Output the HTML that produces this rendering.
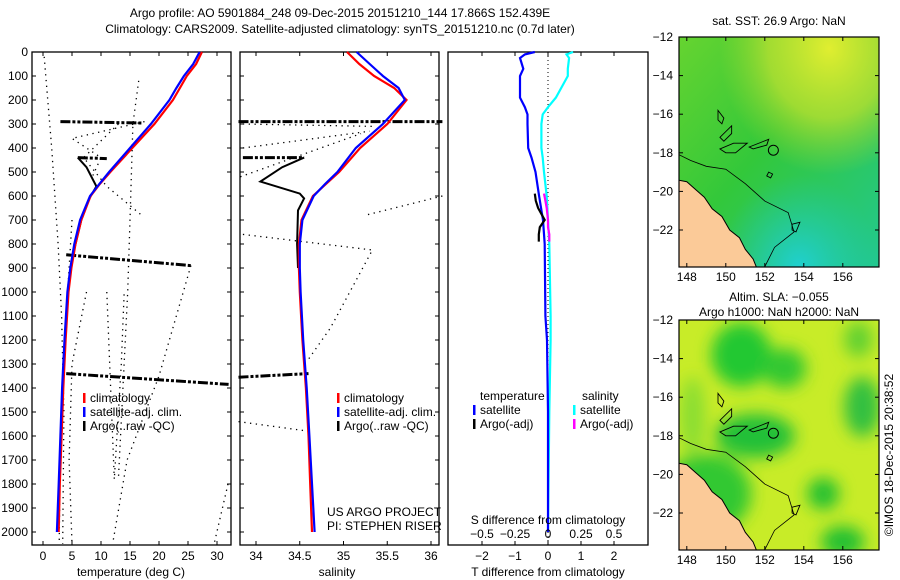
<!DOCTYPE html>
<html><head><meta charset="utf-8">
<style>
html,body{margin:0;padding:0;background:#fff;}
svg{display:block;font-family:"Liberation Sans",sans-serif;}
text{font-size:12px;fill:#000;}
</style></head>
<body>
<svg id="fig" width="900" height="580" viewBox="0 0 900 580" xmlns="http://www.w3.org/2000/svg">
<defs>
 <linearGradient id="sstg" x1="0" y1="0" x2="1" y2="1">
  <stop offset="0" stop-color="#66d430"/>
  <stop offset="0.45" stop-color="#33c83a"/>
  <stop offset="1" stop-color="#22c890"/>
 </linearGradient>
 <radialGradient id="sstYellow" cx="0.75" cy="0.05" r="0.55">
  <stop offset="0" stop-color="#e0ee30" stop-opacity="1"/>
  <stop offset="0.55" stop-color="#b8e030" stop-opacity="0.8"/>
  <stop offset="1" stop-color="#9ad830" stop-opacity="0"/>
 </radialGradient>
 <radialGradient id="sstTeal" cx="0.6" cy="1" r="0.4">
  <stop offset="0" stop-color="#20d0d0" stop-opacity="1"/>
  <stop offset="1" stop-color="#20c8b0" stop-opacity="0"/>
 </radialGradient>
 <filter id="blur"><feGaussianBlur stdDeviation="8"/></filter>
 <clipPath id="clip1"><rect x="679" y="37" width="200" height="230"/></clipPath>
 <clipPath id="clip2"><rect x="679" y="320" width="200" height="230"/></clipPath>
</defs>
<g id="root"></g>
</svg>
<script>
// ---------- data ----------
const depths = [0,50,100,150,200,300,400,500,550,600,700,800,900,1000,1200,1400,1600,1800,2000];
const tempClim = [27.4,26.4,24.8,23.6,22.4,19.2,15.4,11.6,9.8,8.2,6.6,5.6,4.9,4.4,3.9,3.5,3.2,2.9,2.7];
const tempSat  = [27.0,25.9,24.3,23.0,21.8,18.6,15.0,11.4,9.7,8.1,6.4,5.4,4.7,4.2,3.7,3.3,3.0,2.7,2.4];
const salClim  = [35.04,35.18,35.35,35.58,35.72,35.50,35.19,34.95,34.80,34.65,34.52,34.49,34.49,34.50,34.53,34.57,34.60,34.62,34.64];
const salSat   = [35.15,35.30,35.45,35.63,35.70,35.45,35.14,34.93,34.79,34.66,34.53,34.50,34.50,34.51,34.54,34.58,34.61,34.64,34.67];
const diffDepths = [0,10,25,70,100,190,230,260,300,400,440,500,600,700,800,1100,1200,1500,2000];
const tDiffSat = [-0.4,-0.7,-0.85,-0.75,-0.85,-0.85,-0.7,-0.62,-0.62,-0.6,-0.5,-0.38,-0.27,-0.15,-0.1,-0.08,-0.03,0,0];
const sDiffSat = [0.19,0.14,0.16,0.15,0.15,0.06,0,-0.04,-0.05,-0.05,-0.04,-0.03,-0.01,0,0.01,0.02,0.02,0.01,0];
const argoDiffDepths = [590,620,650,700,730,760,790];
const tDiffArgo = [-0.4,-0.37,-0.3,-0.1,-0.25,-0.28,-0.28];
const sDiffArgo = [-0.03,-0.02,-0.01,0,0,0.01,0.01];
// Argo raw (-QC) traces: [value, depth]
const tArgoDash = [
 [[3,290],[17,296]], [[6,440],[11,444]], [[4,845],[25.5,890]], [[4,1340],[32,1385]]
];
const tArgoSolid = [[6,440],[7.5,480],[9.2,560],[8,610],[6.6,700],[5.6,800],[5,860]];
const tArgoDots = [
 [[0.2,20],[1.5,400],[2.6,800],[3.2,1100],[3.6,1500],[3.4,2050]],
 [[16.5,120],[15.5,300],[15,700],[14.6,1000],[13,1780]],
 [[17.5,290],[5,360],[10,440],[8.5,520]],
 [[13,300],[7,440],[11,560],[15,640],[17,680]],
 [[25.5,890],[20,1350],[14.5,1700],[12,2050]],
 [[11,1000],[12.3,1780],[13.5,1300],[14,1000]],
 [[7.5,1000],[5,1300],[4.5,1700],[5,2050]],
 [[5,700],[4,1100],[3,1600],[2.8,2050]],
 [[31.9,1800],[29.5,2050]]
];
const sArgoDash = [
 [[33.8,290],[36.13,290]], [[33.85,440],[34.55,440]], [[33.8,1355],[34.6,1340]]
];
const sArgoSolid = [[34.55,440],[34.3,480],[34.05,540],[34.5,590],[34.55,610],[34.48,660],[34.47,800],[34.48,900]];
const sArgoDots = [
 [[33.85,300],[35.35,310]], [[33.85,400],[35.3,330]], [[33.82,520],[35.2,340]],
 [[33.85,760],[35.33,825],[34.85,1150],[34.6,1280]],
 [[36.13,600],[35.25,680]], [[33.8,1540],[34.6,1580]]
];
const depthTicks = [0,100,200,300,400,500,600,700,800,900,1000,1100,1200,1300,1400,1500,1600,1700,1800,1900,2000];
const tempTicks = [0,5,10,15,20,25,30];
const salTicks = [34,34.5,35,35.5,36];
const tDiffTicks = [-2,-1,0,1,2];
const sDiffTicks = [-0.5,-0.25,0,0.25,0.5];
const latTicks = [-12,-14,-16,-18,-20,-22];
const lonTicks = [148,150,152,154,156];
const coastLand = [[147.5,-19.4],[148,-19.5],[148.5,-19.95],[148.9,-20.3],[149.3,-20.9],[149.8,-21.3],[150.2,-22],[150.7,-22.4],[151,-23],[151.4,-23.5],[151.6,-24],[147.5,-24]];
const shelfLine = [[147.6,-18.1],[148.2,-18.4],[149,-18.7],[150,-18.85],[151,-19.6],[152,-20.5],[153.2,-21.1],[153.5,-22.1],[152.5,-22.9],[152.0,-23.9]];
const reefs = [
 [[149.6,-15.8],[149.9,-16.2],[149.8,-16.5],[149.6,-16.3]],
 [[149.7,-17.2],[150.3,-16.6],[150.3,-17.0],[149.9,-17.4]],
 [[149.7,-17.8],[150.4,-17.5],[151.1,-17.5],[150.5,-18.0],[150.0,-18.0]],
 [[151.2,-17.7],[152.2,-17.3],[152.1,-17.6],[151.4,-17.8]],
 [[152.2,-19.0],[152.4,-19.1],[152.3,-19.3],[152.1,-19.2]],
 [[153.4,-21.7],[153.8,-21.6],[153.6,-22.1],[153.4,-22.0]]
];

// ---------- helpers ----------
const NS="http://www.w3.org/2000/svg";
const root=document.getElementById('root');
function mk(tag,attrs,parent){const e=document.createElementNS(NS,tag);for(const k in attrs)e.setAttribute(k,attrs[k]);(parent||root).appendChild(e);return e;}
function txt(x,y,s,anchor,parent){const t=mk('text',{x:x,y:y,'text-anchor':anchor||'start'},parent);t.textContent=s;return t;}
const yD=d=>52+d*0.24;
const xT=t=>43+t*5.8;
const xS=s=>256+(s-34)*87.5;
const xTD=v=>548+v*33;
const xSD=v=>548+v*132;
function poly(pts,fx,stroke,w,dash,name,parent){
 const p=mk('polyline',{points:pts.map(q=>fx(q[0]).toFixed(1)+','+yD(q[1]).toFixed(1)).join(' '),fill:'none',stroke:stroke,'stroke-width':w},parent);
 if(dash)p.setAttribute('stroke-dasharray',dash);
 
 
 return p;
}
function series(vals,dep,fx,color,name,parent){return poly(vals.map((v,i)=>[v,dep[i]]),fx,color,2.2,null,name,parent);}

// ---------- titles ----------
const tl=txt(340,17,'Argo profile: AO 5901884_248 09-Dec-2015 20151210_144 17.866S 152.439E','middle');

const t2=txt(340,33,'Climatology: CARS2009. Satellite-adjusted climatology: synTS_20151210.nc (0.7d later)','middle');


// ---------- panels ----------
function panel(x0,name){
 const g=mk('g',{});
 
 
 mk('rect',{x:x0,y:52,width:199,height:493,fill:'none',stroke:'#000','stroke-width':1.3},g);
 depthTicks.forEach(d=>{mk('line',{x1:x0,x2:x0+4,y1:yD(d),y2:yD(d),stroke:'#000'},g);mk('line',{x1:x0+199,x2:x0+195,y1:yD(d),y2:yD(d),stroke:'#000'},g);});
 return g;
}
const p1=panel(32,'temperature-panel');
const p2=panel(240,'salinity-panel');
const p3=mk('g',{});


mk('rect',{x:448,y:52,width:200,height:493,fill:'none',stroke:'#000','stroke-width':1.3},p3);

// depth labels
const yax=mk('g',{});


depthTicks.forEach(d=>txt(28,yD(d)+4,String(d),'end',yax));

// temperature x axis
const xt=mk('g',{});


tempTicks.forEach(t=>{txt(xT(t),560,String(t),'middle',xt);mk('line',{x1:xT(t),x2:xT(t),y1:545,y2:541,stroke:'#000'},xt);mk('line',{x1:xT(t),x2:xT(t),y1:52,y2:56,stroke:'#000'},xt);});
txt(131,576,'temperature (deg C)','middle',xt);
const xs=mk('g',{});


salTicks.forEach(s=>{txt(xS(s),560,String(s),'middle',xs);mk('line',{x1:xS(s),x2:xS(s),y1:545,y2:541,stroke:'#000'},xs);mk('line',{x1:xS(s),x2:xS(s),y1:52,y2:56,stroke:'#000'},xs);});
txt(337,576,'salinity','middle',xs);
const xd=mk('g',{});


tDiffTicks.forEach(v=>{txt(xTD(v),560,String(v).replace('-','\u2212'),'middle',xd);mk('line',{x1:xTD(v),x2:xTD(v),y1:545,y2:541,stroke:'#000'},xd);mk('line',{x1:xTD(v),x2:xTD(v),y1:52,y2:56,stroke:'#000'},xd);});
txt(548,576,'T difference from climatology','middle',xd);
const sd=mk('g',{});


sDiffTicks.forEach(v=>txt(xSD(v),538,String(v).replace('-','\u2212'),'middle',sd));
txt(548,524,'S difference from climatology','middle',sd);

// temperature panel lines
tArgoDots.forEach((l,i)=>poly(l,xT,'#000',1.3,'1.3 4.5','temp-argo-dotted-'+i,p1));
tArgoDash.forEach((l,i)=>poly(l,xT,'#000',3,'10 2 3 2 3 2','temp-argo-dashdot-'+i,p1));
poly(tArgoSolid,xT,'#000',2,null,'temp-argo-solid',p1);
series(tempClim,depths,xT,'#ff0000','temp-climatology-line',p1);
series(tempSat,depths,xT,'#0000ff','temp-satellite-line',p1);
// salinity panel
sArgoDots.forEach((l,i)=>poly(l,xS,'#000',1.3,'1.3 4.5','sal-argo-dotted-'+i,p2));
sArgoDash.forEach((l,i)=>poly(l,xS,'#000',3,'10 2 3 2 3 2','sal-argo-dashdot-'+i,p2));
poly(sArgoSolid,xS,'#000',2,null,'sal-argo-solid',p2);
series(salClim,depths,xS,'#ff0000','sal-climatology-line',p2);
series(salSat,depths,xS,'#0000ff','sal-satellite-line',p2);
// diff panel
mk('line',{x1:548,x2:548,y1:52,y2:545,stroke:'#000','stroke-dasharray':'1 3'},p3);
series(sDiffSat,diffDepths,xSD,'#00ffff','s-diff-satellite-line',p3);
series(tDiffSat,diffDepths,xTD,'#0000ff','t-diff-satellite-line',p3);
series(tDiffArgo,argoDiffDepths,xTD,'#000000','t-diff-argo-line',p3);
series(sDiffArgo,argoDiffDepths,xSD,'#ff00ff','s-diff-argo-line',p3);

// legends
function legend(x,y,items,name,parent){
 const g=mk('g',{},parent);
 
 
 items.forEach((it,i)=>{mk('rect',{x:x,y:y+i*14-9,width:2.5,height:10,fill:it[1]},g);txt(x+7,y+i*14,it[0],'start',g);});
}
legend(83,402,[['climatology','#ff0000'],['satellite-adj. clim.','#0000ff'],['Argo(..raw -QC)','#000']],'temp-legend',p1);
legend(337,402,[['climatology','#ff0000'],['satellite-adj. clim.','#0000ff'],['Argo(..raw -QC)','#000']],'sal-legend',p2);
txt(480,400,'temperature','start',p3);
txt(582,400,'salinity','start',p3);
legend(473,414,[['satellite','#0000ff'],['Argo(-adj)','#000']],'t-diff-legend',p3);
legend(573,414,[['satellite','#00ffff'],['Argo(-adj)','#ff00ff']],'s-diff-legend',p3);
txt(327,516,'US ARGO PROJECT','start',p2);
txt(327,530,'PI: STEPHEN RISER','start',p2);

// ---------- maps ----------
function mx(lon){return 679+(lon-147.6)*19.5;}
function map(y0,name,clipId,isSla){
 const g=mk('g',{});
 
 
 const my=lat=>y0+(-12-lat)*19.3;
 const c=mk('g',{'clip-path':'url(#'+clipId+')'},g);
 if(!isSla){
  mk('rect',{x:679,y:y0,width:200,height:230,fill:'url(#sstg)'},c);
  mk('rect',{x:679,y:y0,width:200,height:230,fill:'url(#sstYellow)'},c);
  mk('rect',{x:679,y:y0,width:200,height:230,fill:'url(#sstTeal)'},c);
 } else {
  mk('rect',{x:679,y:y0,width:200,height:230,fill:'#c8ec28'},c);
  const bl=mk('g',{filter:'url(#blur)'},c);
  [[150.8,-13.8,30,32,'#20c830'],[153,-14.5,22,20,'#30c830'],[151.5,-18,40,22,'#20c038'],[149,-21,45,40,'#30c830'],[157,-16.5,18,30,'#30c040'],[155,-21,16,16,'#20c030'],[156,-23.5,22,16,'#20c030'],[148.3,-17,12,40,'#88dd30'],[156.8,-13,14,18,'#60d030']].forEach(b=>mk('ellipse',{cx:mx(b[0]),cy:my(b[1]),rx:b[2],ry:b[3],fill:b[4]},bl));
 }
 mk('polygon',{points:coastLand.map(p=>mx(p[0])+','+my(p[1])).join(' '),fill:'#fbca98',stroke:'#000','stroke-width':1},c);
 mk('polyline',{points:shelfLine.map(p=>mx(p[0])+','+my(p[1])).join(' '),fill:'none',stroke:'#000','stroke-width':0.8},c);
 reefs.forEach(r=>mk('polygon',{points:r.map(p=>mx(p[0])+','+my(p[1])).join(' '),fill:'none',stroke:'#000','stroke-width':0.9},c));
 mk('circle',{cx:mx(152.439),cy:my(-17.866),r:5,fill:'none',stroke:'#000'},c);
 mk('rect',{x:679,y:y0,width:200,height:230,fill:'none',stroke:'#000','stroke-width':1.2},g);
 latTicks.forEach(l=>{txt(673,my(l)+4,String(l).replace('-','\u2212'),'end',g);mk('line',{x1:679,x2:683,y1:my(l),y2:my(l),stroke:'#000'},g);mk('line',{x1:879,x2:875,y1:my(l),y2:my(l),stroke:'#000'},g);});
 lonTicks.forEach(l=>{txt(mx(l),y0+244,String(l),'middle',g);mk('line',{x1:mx(l),x2:mx(l),y1:y0,y2:y0+4,stroke:'#000'},g);mk('line',{x1:mx(l),x2:mx(l),y1:y0+230,y2:y0+226,stroke:'#000'},g);});
 return g;
}
const m1=map(37,'sst-map','clip1',false);
txt(779,25,'sat. SST: 26.9 Argo: NaN','middle',m1);
const m2=map(320,'sla-map','clip2',true);
txt(779,301,'Altim. SLA: \u22120.055','middle',m2);
txt(779,316,'Argo h1000: NaN h2000: NaN','middle',m2);
const stamp=txt(0,0,'\u00A9IMOS 18-Dec-2015 20:38:52','middle');
stamp.setAttribute('transform','translate(893,455) rotate(-90)');


</script>
</body></html>
